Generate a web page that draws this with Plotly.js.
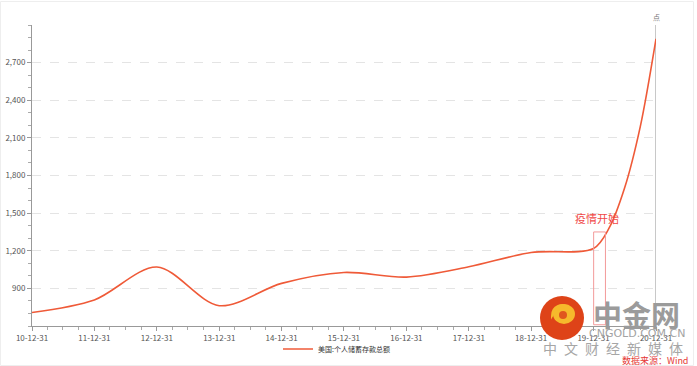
<!DOCTYPE html>
<html>
<head>
<meta charset="utf-8">
<script src="https://cdn.plot.ly/plotly-3.0.1.min.js"></script>
<style>html,body{margin:0;padding:0;background:#fff;}#chart{width:697px;height:366px;}</style>
</head>
<body>
<div id="chart"></div>
<script>
// ---- data ----
const dates = ['2010-12-31','2011-12-31','2012-12-31','2013-12-31','2014-12-31','2015-12-31',
               '2016-12-31','2017-12-31','2018-12-31','2019-12-31','2020-03-31','2020-06-30',
               '2020-09-30','2020-12-31'];
const savings = [708, 808, 1070, 762, 940, 1027, 990, 1072, 1186, 1218, 1380, 1700, 2190, 2890];
const seriesName = '美国:个人储蓄存款总额';
const yTickVals = [900, 1200, 1500, 1800, 2100, 2400, 2700];
const yTickText = yTickVals.map(v => v.toLocaleString('en-US'));
const eventLabel = '疫情开始';
const eventStart = '2020-01-01';
const eventEnd = '2020-03-10';
const lastDate = '2020-12-31';

const FONT = '"Noto Sans CJK SC", "Noto Sans", sans-serif';
const L = 32, R = 656, T = 25, B = 326;
const px = x => (x - L) / (R - L);
const py = y => (B - y) / (B - T);

const trace = {
  x: dates, y: savings, type: 'scatter', mode: 'lines', name: seriesName,
  line: {color: '#ef5a38', width: 1.6, shape: 'spline', smoothing: 0.9},
  hoverinfo: 'x+y'
};

function txt(x, y, text, font) {
  return {xref: 'paper', yref: 'paper', x: px(x), y: py(y), text: text, showarrow: false,
          xanchor: 'center', yanchor: 'middle', font: font};
}

const layout = {
  width: 697, height: 366,
  margin: {l: L, r: 697 - R, t: T, b: 366 - B, autoexpand: false},
  paper_bgcolor: '#fff', plot_bgcolor: '#fff',
  font: {family: FONT, size: 8, color: '#555'},
  showlegend: true,
  legend: {orientation: 'h', x: px(278), xanchor: 'left', y: py(349), yanchor: 'middle',
           font: {size: 7, color: '#333'}, itemwidth: 30, bgcolor: 'rgba(0,0,0,0)'},
  xaxis: {
    type: 'date', range: ['2010-12-31', '2020-12-31'],
    tick0: '2010-12-31', dtick: 'M12', tickformat: '%y-%m-%d',
    ticks: 'outside', ticklen: 4, tickcolor: '#999', tickwidth: 1,
    showline: true, linecolor: '#999', linewidth: 1, showgrid: false, zeroline: false,
    tickfont: {size: 8, color: '#555'},
    minor: {dtick: 'M3', tick0: '2010-12-31', ticks: 'outside', ticklen: 3, tickcolor: '#aaa', showgrid: false}
  },
  yaxis: {
    range: [600, 3000], tickmode: 'array', tickvals: yTickVals, ticktext: yTickText,
    ticks: 'outside', ticklen: 4, tickcolor: '#999',
    showline: true, linecolor: '#999', linewidth: 1, zeroline: false,
    showgrid: true, gridcolor: '#e4e4e4', griddash: 'dash', gridwidth: 1,
    tickfont: {size: 8, color: '#555'},
    minor: {tickmode: 'linear', dtick: 100, tick0: 0, ticks: 'outside', ticklen: 3, tickcolor: '#aaa', showgrid: false}
  },
  shapes: [
    {type: 'rect', xref: 'paper', yref: 'paper', x0: px(0.5), x1: px(693.5), y0: py(365.5), y1: py(1.5),
     line: {color: '#eeeeee', width: 1}, layer: 'below'},
    {type: 'line', xref: 'x', yref: 'paper', x0: lastDate, x1: lastDate, y0: 0, y1: 1,
     line: {color: '#c8c8c8', width: 2}, layer: 'below'},
    {type: 'rect', xref: 'x', yref: 'y', x0: eventStart, x1: eventEnd, y0: 610, y1: 1350,
     line: {color: '#f39a9a', width: 1}, fillcolor: 'rgba(0,0,0,0)'},
    {type: 'circle', xref: 'paper', yref: 'paper', xsizemode: 'pixel', ysizemode: 'pixel',
     xanchor: px(562), yanchor: py(318), x0: -22, x1: 22, y0: -22, y1: 22,
     fillcolor: '#de4318', line: {width: 0}},
    {type: 'circle', xref: 'paper', yref: 'paper', xsizemode: 'pixel', ysizemode: 'pixel',
     xanchor: px(564), yanchor: py(314), x0: -11, x1: 11, y0: -10, y1: 10,
     fillcolor: '#f6b92c', line: {width: 0}},
    {type: 'circle', xref: 'paper', yref: 'paper', xsizemode: 'pixel', ysizemode: 'pixel',
     xanchor: px(563), yanchor: py(315), x0: -4, x1: 4, y0: -4, y1: 4,
     fillcolor: '#e0561e', line: {width: 0}},
    {type: 'path', xref: 'paper', yref: 'paper', xsizemode: 'pixel', ysizemode: 'pixel',
     xanchor: px(562), yanchor: py(318),
     path: 'M -10 2 C -10 12, 0 16, 8 10 C 4 12, -4 12, -10 2 Z',
     fillcolor: '#f6b92c', line: {color: '#f6b92c', width: 2}}
  ],
  annotations: [
    {xref: 'x', yref: 'y', x: '2020-01-20', y: 1460, text: eventLabel, showarrow: false,
     xanchor: 'center', yanchor: 'middle', font: {size: 11, color: '#f04848', family: FONT}},
    txt(656, 17, '点', {size: 7, color: '#777', family: FONT}),
    txt(636, 314, '<b>中金网</b>', {size: 29, color: '#9b9b9b', family: FONT}),
    txt(637, 333, 'CNGOLD.COM.CN', {size: 11, color: '#a3a3a3', family: '"DejaVu Sans", sans-serif'}),
    txt(613, 348, '中\u2002文\u2002财\u2002经\u2002新\u2002媒\u2002体', {size: 14, color: '#a6a6a6', family: FONT}),
    txt(655, 360, '数据来源：Wind', {size: 9, color: '#e53935', family: FONT})
  ]
};

Plotly.newPlot('chart', [trace], layout, {displayModeBar: false, staticPlot: true});
</script>
</body>
</html>
